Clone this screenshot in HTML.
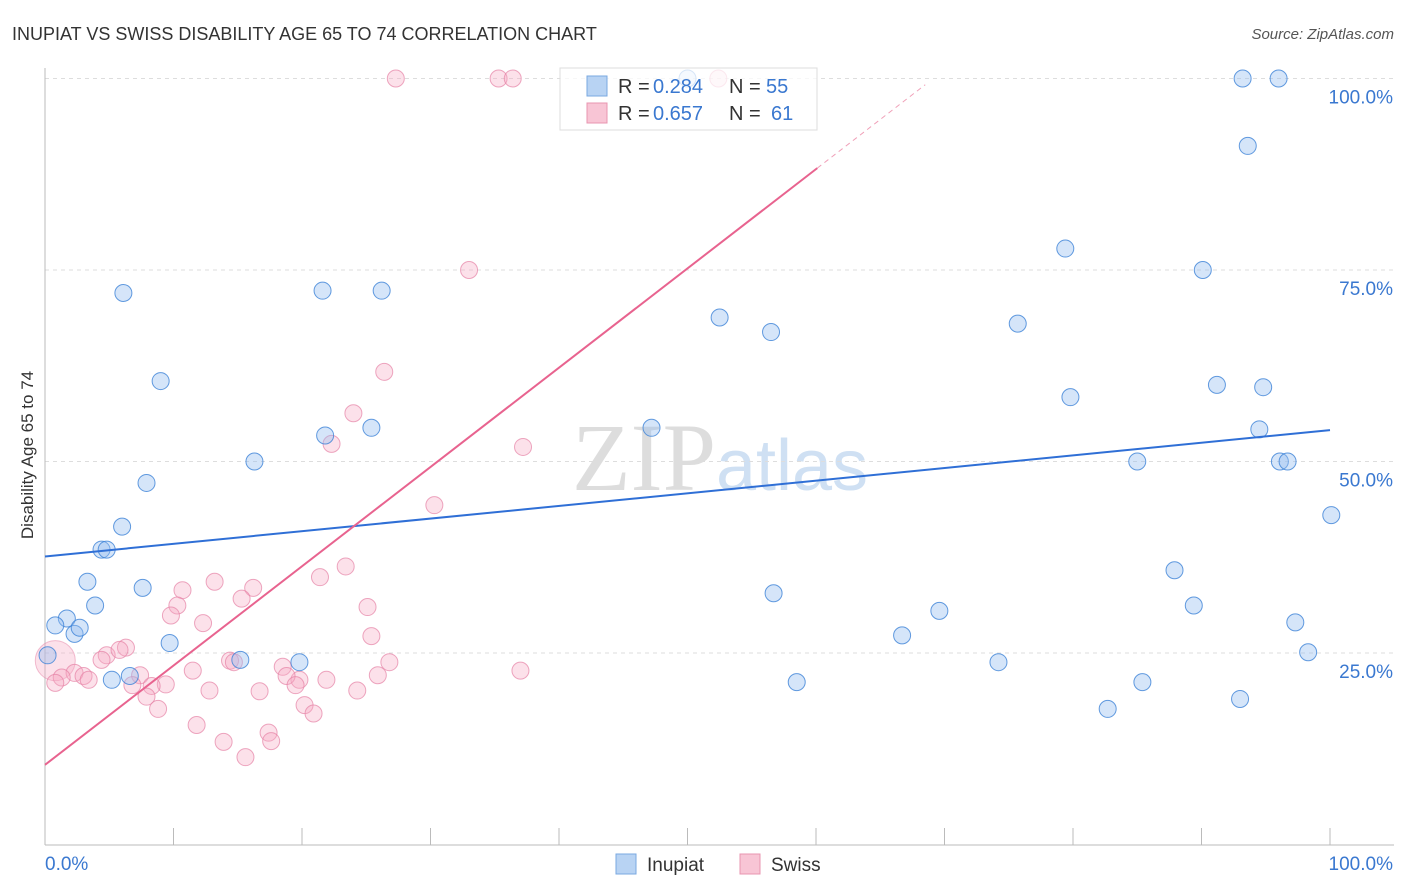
<!DOCTYPE html>
<html><head><meta charset="utf-8">
<style>
body{margin:0;background:#fff;font-family:"Liberation Sans",sans-serif;}
svg{display:block}
</style></head><body>
<svg id="chart" width="1406" height="892" xmlns="http://www.w3.org/2000/svg">
<text x="12" y="40" font-size="18" fill="#333">INUPIAT VS SWISS DISABILITY AGE 65 TO 74 CORRELATION CHART</text>
<text x="1394" y="39" font-size="15" fill="#555" text-anchor="end" font-style="italic">Source: ZipAtlas.com</text>
<text x="0" y="0" font-size="17" fill="#333" text-anchor="middle" transform="translate(33,455) rotate(-90)">Disability Age 65 to 74</text>
<text x="720" y="490" font-size="96" fill="#ddd" text-anchor="middle" font-family="Liberation Serif,serif">ZIP<tspan fill="#cfe0f3" font-family="Liberation Sans,sans-serif" font-size="72">atlas</tspan></text>
<g id="grid"></g><g id="axes"></g><g id="marks"></g>
<g>
<rect x="560" y="68" width="257" height="62" fill="rgba(255,255,255,0.75)" stroke="#ddd"/>
<rect x="587" y="76" width="20" height="20" fill="#b8d3f3" stroke="#7aa8e0"/>
<rect x="587" y="103" width="20" height="20" fill="#f8c5d5" stroke="#e895b0"/>
<text x="618" y="93" font-size="20" fill="#333">R =</text>
<text x="653" y="93" font-size="20" fill="#3a78d0">0.284</text>
<text x="729" y="93" font-size="20" fill="#333">N =</text>
<text x="766" y="93" font-size="20" fill="#3a78d0">55</text>
<text x="618" y="120" font-size="20" fill="#333">R =</text>
<text x="653" y="120" font-size="20" fill="#3a78d0">0.657</text>
<text x="729" y="120" font-size="20" fill="#333">N =</text>
<text x="771" y="120" font-size="20" fill="#3a78d0">61</text>
</g>
<g>
<rect x="616" y="854" width="20" height="20" fill="#b8d3f3" stroke="#7aa8e0"/>
<text x="647" y="871" font-size="19" fill="#333">Inupiat</text>
<rect x="740" y="854" width="20" height="20" fill="#f8c5d5" stroke="#e895b0"/>
<text x="771" y="871" font-size="19" fill="#333">Swiss</text>
</g>
</svg>
<script>
const inupiatX=[6.1,9,7.9,6,4.4,4.8,3.3,7.6,3.9,1.7,0.8,2.3,2.7,9.7,5.2,6.6,0.2,15.2,19.8,16.3,21.6,26.2,21.8,25.4,47.2,52.5,56.5,56.7,58.5,66.7,69.6,74.2,75.7,79.4,79.8,82.7,85,85.4,87.9,89.4,90.1,91.2,93,93.2,93.6,94.5,94.8,96,96.1,96.7,97.3,98.3,100.1,50];
const inupiatY=[72,60.5,47.2,41.5,38.5,38.5,34.3,33.5,31.2,29.5,28.6,27.5,28.3,26.3,21.5,22,24.7,24.1,23.8,50,72.3,72.3,53.4,54.4,54.4,68.8,66.9,32.8,21.2,27.3,30.5,23.8,68,77.8,58.4,17.7,50,21.2,35.8,31.2,75,60,19,100,91.2,54.2,59.7,100,50,50,29,25.1,43,100];
const swissX=[27.3,35.3,36.4,52.4,33,26.4,24,22.3,37.2,30.3,23.4,21.4,13.2,16.2,10.7,15.3,25.1,10.3,9.8,12.3,25.4,6.3,4.8,5.8,4.4,14.4,14.7,18.5,26.8,25.9,37,11.5,7.4,2.3,3,1.3,0.8,3.4,19.8,21.9,18.8,9.4,8.3,6.8,12.8,16.7,19.5,24.3,7.9,8.8,20.2,20.9,11.8,17.4,17.6,13.9,15.6,0.8];
const swissY=[100,100,100,100,75,61.7,56.3,52.3,51.9,44.3,36.3,34.9,34.3,33.5,33.2,32.1,31,31.2,29.9,28.9,27.2,25.7,24.7,25.4,24.1,24,23.8,23.2,23.8,22.1,22.7,22.7,22.1,22.4,22,21.8,21.1,21.5,21.5,21.5,22,20.9,20.7,20.8,20.1,20,20.8,20.1,19.3,17.7,18.2,17.1,15.6,14.6,13.5,13.4,11.4,24];
const xTicks=[0,10,20,30,40,50,60,70,80,90,100];
const yTicks=[25,50,75,100];
const yTickLabels=["25.0%","50.0%","75.0%","100.0%"];
const blueLine=[37.6,54.1];
const pinkLine=[10.4,88.3,101];
const NS="http://www.w3.org/2000/svg";
const X=v=>45+v*12.85, Y=v=>844.5-v*7.66;
function mk(t,a,p){const e=document.createElementNS(NS,t);for(const k in a)e.setAttribute(k,a[k]);p.appendChild(e);return e;}
const grid=document.getElementById('grid'),axes=document.getElementById('axes'),marks=document.getElementById('marks');
yTicks.forEach((t,i)=>{
 const l=mk('line',{x1:45,x2:1394,y1:Y(t),y2:Y(t),stroke:'#ddd','stroke-dasharray':'4,4'},grid);
 
 
 const tx=mk('text',{x:1393,y:Y(t)+25,'font-size':19,fill:'#3a78d0','text-anchor':'end'},axes);
 tx.textContent=yTickLabels[i];
 
 
});
mk('line',{x1:45,x2:45,y1:68,y2:845,stroke:'#bbb'},axes);
mk('line',{x1:45,x2:1394,y1:845,y2:845,stroke:'#bbb'},axes);
xTicks.forEach(t=>{mk('line',{x1:X(t),x2:X(t),y1:828,y2:845,stroke:'#bbb'},axes);});
const x0=mk('text',{x:45,y:870,'font-size':19,fill:'#3a78d0'},axes);x0.textContent='0.0%';


const x1=mk('text',{x:1393,y:870,'font-size':19,fill:'#3a78d0','text-anchor':'end'},axes);x1.textContent='100.0%';


const big=mk('circle',{cx:X(swissX[swissX.length-1]),cy:Y(swissY[swissY.length-1]),r:20,fill:'rgba(245,170,195,0.35)',stroke:'rgba(230,130,165,0.5)'},marks);


swissX.slice(0,-1).forEach((v,i)=>{
 const c=mk('circle',{cx:X(v),cy:Y(swissY[i]),r:8.5,fill:'rgba(245,170,195,0.35)',stroke:'rgba(230,130,165,0.7)'},marks);
 
 
});
inupiatX.forEach((v,i)=>{
 const c=mk('circle',{cx:X(v),cy:Y(inupiatY[i]),r:8.5,fill:'rgba(150,190,240,0.4)',stroke:'rgba(60,130,215,0.8)'},marks);
 
 
});
const bl=mk('line',{x1:X(0),y1:Y(blueLine[0]),x2:X(100),y2:Y(blueLine[1]),stroke:'#2f6fd6','stroke-width':2},marks);


const slope=(pinkLine[1]-pinkLine[0])/60.1;
const pl=mk('line',{x1:X(0),y1:Y(pinkLine[0]),x2:X(60.1),y2:Y(pinkLine[1]),stroke:'#e8638f','stroke-width':2},marks);


const pd=mk('line',{x1:X(60.1),y1:Y(pinkLine[1]),x2:X(68.5),y2:Y(pinkLine[1]+slope*8.4),stroke:'#f0a0b8','stroke-width':1,'stroke-dasharray':'5,4'},marks);


</script>
</body></html>
